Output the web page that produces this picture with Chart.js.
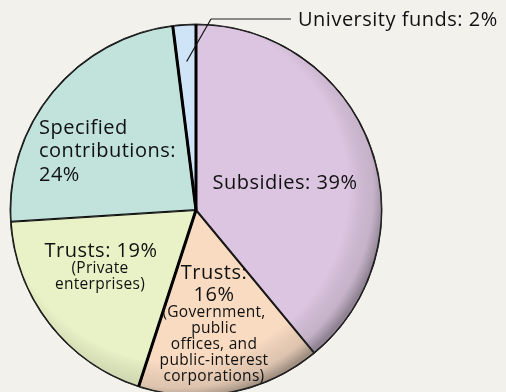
<!DOCTYPE html>
<html lang="en">
<head>
    <meta charset="UTF-8">
    <title>Funding sources</title>
    <script src="https://cdn.jsdelivr.net/npm/chart.js"></script>
    <style>
        html, body { margin: 0; padding: 0; background: #f3f1ec; overflow: hidden; }
        #wrap { position: absolute; left: 0; top: 0; width: 506px; height: 396px; }
    </style>
</head>
<body>
<div id="wrap"><canvas id="fundChart"></canvas></div>
<script>
// Slices, clockwise from 12 o'clock
const categories = ['Subsidies', 'Trusts (Government)', 'Trusts (Private)', 'Specified contributions', 'University funds'];
const shares = [39, 16, 19, 24, 2];
const sliceColors = ['#dcc5e0', '#f9dbc2', '#e9f2c6', '#c1e3dc', '#cfe4f6'];

// Text written inside / beside each slice
const labelLines = [
    ['Subsidies: 39%'],
    ['Trusts:', '16%', '(Government,', 'public', 'offices, and', 'public-interest', 'corporations)'],
    ['Trusts: 19%', '(Private', 'enterprises)'],
    ['Specified', 'contributions:', '24%'],
    ['University funds: 2%']
];

// slice boundaries drawn with a heavy stroke (index = slice whose start edge it is)
const heavyEdges = [0, 2, 4];

const big = '20px "Open Sans"';
const bigSpacing = '0.5px';
const small = '15.5px "Open Sans"';
const smallSpacing = '0.3px';

function useBig(ctx) { ctx.font = big; ctx.letterSpacing = bigSpacing; }
function useSmall(ctx) { ctx.font = small; ctx.letterSpacing = smallSpacing; }

const shadePlugin = {
    id: 'shade',
    afterDatasetsDraw(chart) {
        const ctx = chart.ctx;
        const arcs = chart.getDatasetMeta(0).data;
        const a0 = arcs[0];
        const cx = a0.x, cy = a0.y, r = a0.outerRadius;

        // rim shading, darker towards the lower right
        ctx.save();
        ctx.beginPath();
        ctx.arc(cx, cy, r, 0, Math.PI * 2);
        ctx.clip();
        const g = ctx.createRadialGradient(cx - 20, cy - 20, 0, cx - 20, cy - 20, r + 24);
        g.addColorStop(0, 'rgba(0,0,0,0)');
        g.addColorStop(0.82, 'rgba(0,0,0,0)');
        g.addColorStop(0.94, 'rgba(70,70,70,0.15)');
        g.addColorStop(1, 'rgba(40,40,40,0.42)');
        ctx.fillStyle = g;
        ctx.fillRect(cx - r, cy - r, 2 * r, 2 * r);
        ctx.restore();

        // heavy separators
        ctx.save();
        ctx.strokeStyle = '#000';
        ctx.lineWidth = 3;
        heavyEdges.forEach(i => {
            const ang = arcs[i].startAngle;
            ctx.beginPath();
            ctx.moveTo(cx, cy);
            ctx.lineTo(cx + r * Math.cos(ang), cy + r * Math.sin(ang));
            ctx.stroke();
        });
        ctx.restore();

        // outer rim
        ctx.save();
        ctx.strokeStyle = '#222';
        ctx.lineWidth = 1;
        ctx.beginPath();
        ctx.arc(cx, cy, r, 0, Math.PI * 2);
        ctx.stroke();
        ctx.restore();
    }
};

const labelPlugin = {
    id: 'sliceLabels',
    afterDraw(chart) {
        const ctx = chart.ctx;
        const arcs = chart.getDatasetMeta(0).data;
        const cx = arcs[0].x, cy = arcs[0].y, r = arcs[0].outerRadius;
        ctx.save();
        ctx.fillStyle = '#111';
        ctx.textBaseline = 'middle';

        // Subsidies
        ctx.textAlign = 'center';
        useBig(ctx);
        ctx.fillText(labelLines[0][0], cx + 89, cy - 27);

        // Trusts 16%
        const t16 = labelLines[1];
        useBig(ctx);
        ctx.fillText(t16[0], cx + 18, cy + 63);
        ctx.fillText(t16[1], cx + 18, cy + 85);
        useSmall(ctx);
        for (let k = 2; k < t16.length; k++) {
            ctx.fillText(t16[k], cx + 18, cy + 103 + (k - 2) * 15.8);
        }

        // Trusts 19%
        const t19 = labelLines[2];
        useBig(ctx);
        ctx.fillText(t19[0], cx - 95, cy + 41);
        useSmall(ctx);
        ctx.fillText(t19[1], cx - 96, cy + 59);
        ctx.fillText(t19[2], cx - 96, cy + 75);

        // Specified contributions
        ctx.textAlign = 'left';
        useBig(ctx);
        labelLines[3].forEach((s, k) => ctx.fillText(s, cx - 157, cy - 82 + k * 23.5));

        // University funds callout
        const u = arcs[4];
        const mid = (u.startAngle + u.endAngle) / 2;
        const px = cx + 0.8 * r * Math.cos(mid), py = cy + 0.8 * r * Math.sin(mid);
        const ey = cy - r - 5;
        ctx.strokeStyle = '#666';
        ctx.lineWidth = 1.5;
        ctx.beginPath();
        ctx.moveTo(cx + 15, ey);
        ctx.lineTo(cx + 95, ey);
        ctx.stroke();
        ctx.strokeStyle = '#111';
        ctx.lineWidth = 1.2;
        ctx.beginPath();
        ctx.moveTo(px, py);
        ctx.lineTo(cx + 15, ey);
        ctx.stroke();
        useBig(ctx);
        ctx.fillText(labelLines[4][0], cx + 102, ey + 1);
        ctx.restore();
    }
};

new Chart(document.getElementById('fundChart').getContext('2d'), {
    type: 'pie',
    data: {
        labels: categories,
        datasets: [{
            data: shares,
            backgroundColor: sliceColors,
            borderColor: '#111',
            borderWidth: 1,
            borderAlign: 'inner'
        }]
    },
    options: {
        responsive: true,
        maintainAspectRatio: false,
        animation: false,
        layout: { padding: { left: 10, right: 124, top: 24, bottom: 0 } },
        plugins: {
            legend: { display: false },
            tooltip: { enabled: false }
        }
    },
    plugins: [shadePlugin, labelPlugin]
});
</script>
</body>
</html>
